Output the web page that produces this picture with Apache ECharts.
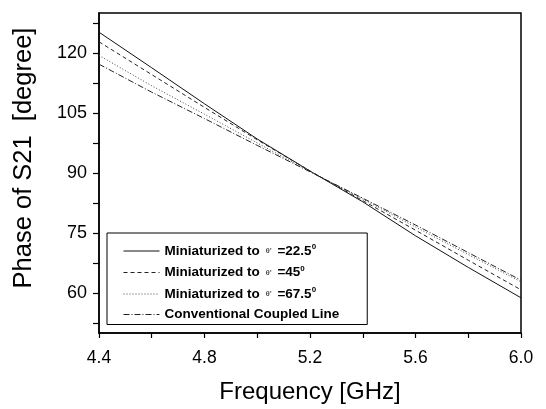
<!DOCTYPE html>
<html>
<head>
<meta charset="utf-8">
<script src="https://cdn.jsdelivr.net/npm/echarts@6/dist/echarts.min.js"></script>
<style>html,body{margin:0;padding:0;background:#fff}#c{width:546px;height:409px}</style>
</head>
<body>
<div id="c"></div>
<script>
var frequencies = [4.4, 4.6, 4.8, 5.0, 5.2, 5.4, 5.6, 5.8, 6.0];
var seriesNames = ["Miniaturized to θ' =22.5", "Miniaturized to θ' =45", "Miniaturized to θ' =67.5", "Conventional Coupled Line"];
var mini225 = [125.2, 116.3, 107.3, 98.5, 90.5, 82.8, 74.3, 66.4, 58.8];
var mini45 = [122.8, 114.6, 106.4, 98.3, 90.5, 83.1, 75.7, 68.2, 60.8];
var mini675 = [119.4, 111.8, 104.7, 97.5, 90.4, 83.5, 76.5, 69.6, 62.8];
var conventional = [117.2, 110.2, 103.6, 96.9, 90.3, 83.7, 77.0, 70.1, 63.2];
var xTickLabels = [4.4, 4.8, 5.2, 5.6, 6.0];
var xTicks = [4.4, 4.6, 4.8, 5.0, 5.2, 5.4, 5.6, 5.8, 6.0];
var yTickLabels = [60, 75, 90, 105, 120];
var yTicks = [52.5, 60, 67.5, 75, 82.5, 90, 97.5, 105, 112.5, 120, 127.5];

function pairs(vals){ return frequencies.map(function(f,i){ return [f, vals[i]]; }); }

var chart = echarts.init(document.getElementById('c'), null, {renderer:'canvas'});
var font = 'Liberation Sans, Arial, sans-serif';
var styles = [
  {color:'#111', type:'solid', width:1},
  {color:'#222', type:[4,3], width:1},
  {color:'#444', type:[1,2], width:1},
  {color:'#222', type:[6,2,1,2], width:1}
];
var dataSets = [mini225, mini45, mini675, conventional];
var series = dataSets.map(function(d,i){
  return {
    name: seriesNames[i], type:'line', data: pairs(d), symbol:'none', showSymbol:false, smooth:false,
    lineStyle: styles[i], itemStyle:{color: styles[i].color}, silent:true, animation:false
  };
});
var supMap = {0:'22.5',1:'45',2:'67.5'};
chart.setOption({
  animation:false,
  grid:{left:99, right:25, top:13, bottom:72, show:true, borderColor:'#000', borderWidth:1.5, backgroundColor:'transparent'},
  xAxis:{
    type:'value', min:4.4, max:6.0,
    name:'Frequency [GHz]', nameLocation:'middle', nameGap:47,
    nameTextStyle:{fontFamily:font, fontSize:24, color:'#000'},
    axisLine:{show:true, onZero:false, lineStyle:{color:'#000', width:1.5}},
    axisTick:{show:true, customValues:xTicks, length:5, inside:false, lineStyle:{color:'#000', width:1.2}},
    axisLabel:{customValues:xTickLabels, margin:16, fontFamily:font, fontSize:17.5, color:'#000',
      formatter:function(v){return Number(v).toFixed(1);}},
    splitLine:{show:false}
  },
  yAxis:{
    type:'value', min:50, max:130,
    name:'Phase of S21  [degree]', nameLocation:'middle', nameGap:62, nameRotate:90,
    nameTextStyle:{fontFamily:font, fontSize:25.5, color:'#000', padding:[0,0,0,30]},
    axisLine:{show:true, onZero:false, lineStyle:{color:'#000', width:1.5}},
    axisTick:{show:true, customValues:yTicks, length:6, inside:false, lineStyle:{color:'#000', width:1.2}},
    axisLabel:{customValues:yTickLabels, margin:12, fontFamily:font, fontSize:18, color:'#000'},
    splitLine:{show:false}
  },
  legend:{
    show:true, orient:'vertical', left:107, top:233,
    padding:[10,28,3,16], itemGap:6.5, itemWidth:36, itemHeight:14,
    borderColor:'#000', borderWidth:1, backgroundColor:'#fff',
    itemStyle:{opacity:0, borderWidth:0},
    lineStyle:{width:1},
    data: seriesNames,
    textStyle:{fontFamily:font, fontSize:13.5, fontWeight:'bold', color:'#000',
      rich:{
        t:{fontSize:8, color:'#555', fontFamily:font, padding:[0,2,0,2]},
        s:{fontSize:8, fontWeight:'bold', color:'#000', fontFamily:font, verticalAlign:'top', padding:[0,0,8,0]}
      }},
    formatter:function(n){
      var i = seriesNames.indexOf(n);
      if (i < 3) {
        return 'Miniaturized to {t|θ\'} =' + supMap[i] + '{s|0}';
      }
      return n;
    }
  },
  series: series
});
</script>
</body>
</html>
